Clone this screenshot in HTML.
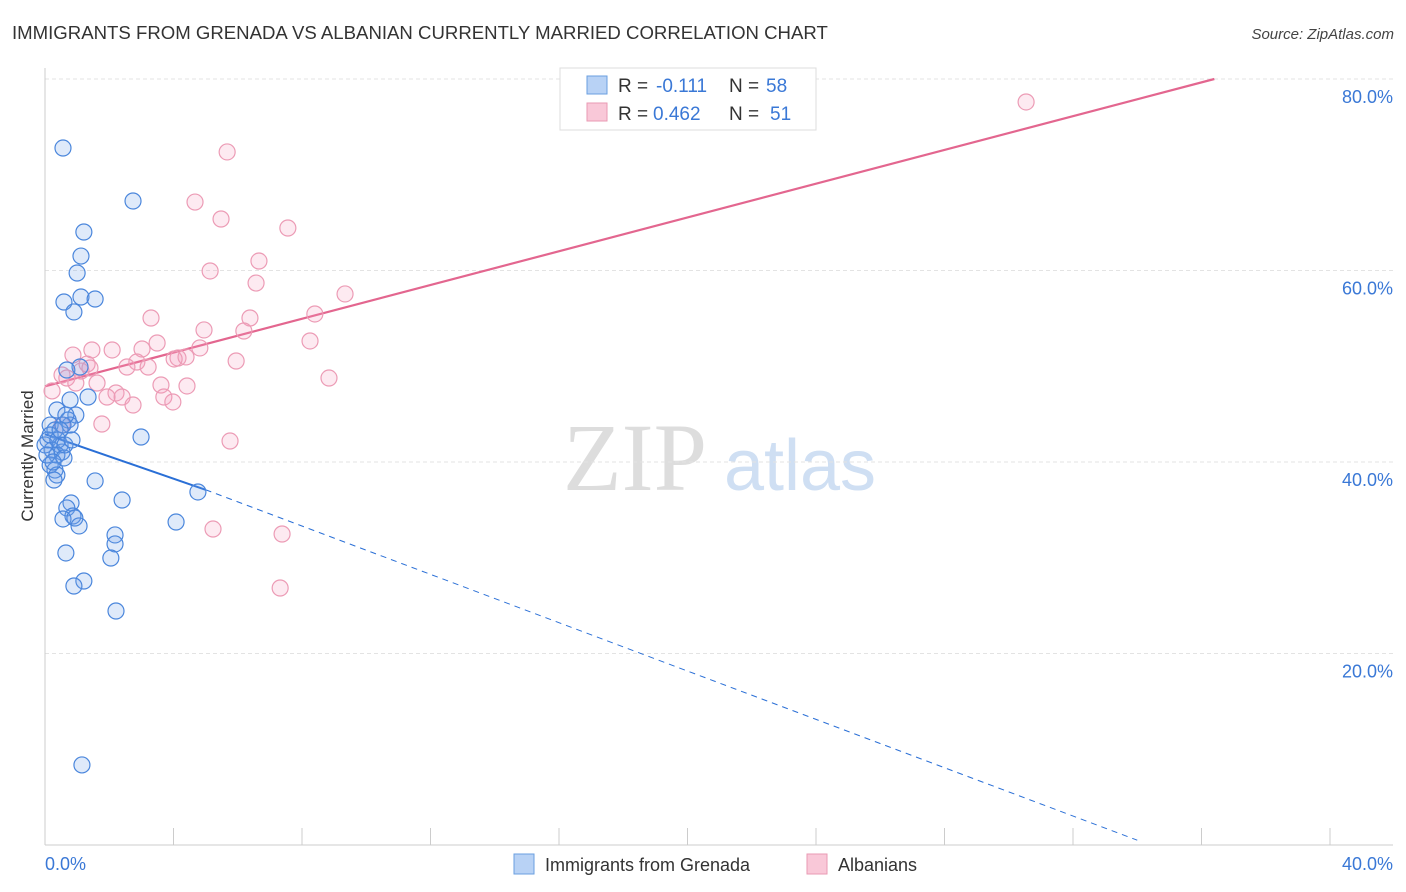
<!DOCTYPE html>
<html><head><meta charset="utf-8"><style>
body{margin:0;background:#fff;font-family:"Liberation Sans",sans-serif;}
svg{display:block}
</style></head><body>
<svg id="chart" width="1406" height="892" xmlns="http://www.w3.org/2000/svg" font-family="Liberation Sans, sans-serif">
<text x="12" y="39" font-size="18.6" fill="#333">IMMIGRANTS FROM GRENADA VS ALBANIAN CURRENTLY MARRIED CORRELATION CHART</text>
<text x="1394" y="39" font-size="15" fill="#444" text-anchor="end" font-style="italic">Source: ZipAtlas.com</text>
<g>
<text x="635" y="490" font-size="96" fill="#ddd" font-family="Liberation Serif, serif" text-anchor="middle">ZIP</text>
<text x="800" y="490" font-size="72" fill="#cfdff3" text-anchor="middle">atlas</text>
</g>
<g id="grid"></g>
<g id="axes"></g>
<g id="trends"></g>
<g id="points"></g>
<text transform="translate(33,456) rotate(-90)" font-size="17" fill="#333" text-anchor="middle">Currently Married</text>
<g>
<rect x="560" y="68" width="256" height="62" fill="#fff" stroke="#ddd"/>
<rect x="587" y="76" width="20" height="18" fill="#b8d2f5" stroke="#6a9fe0"/>
<rect x="587" y="103" width="20" height="18" fill="#f9c8d8" stroke="#e99ab3"/>
<text x="618" y="92" font-size="19" fill="#333">R =</text>
<text x="656" y="92" font-size="19" fill="#3a78d6">-0.111</text>
<text x="729" y="92" font-size="19" fill="#333">N =</text>
<text x="766" y="92" font-size="19" fill="#3a78d6">58</text>
<text x="618" y="120" font-size="19" fill="#333">R =</text>
<text x="653" y="120" font-size="19" fill="#3a78d6">0.462</text>
<text x="729" y="120" font-size="19" fill="#333">N =</text>
<text x="770" y="120" font-size="19" fill="#3a78d6">51</text>
</g>
<g>
<rect x="514" y="854" width="20" height="20" fill="#b8d2f5" stroke="#6a9fe0"/>
<text x="545" y="871" font-size="18" fill="#333">Immigrants from Grenada</text>
<rect x="807" y="854" width="20" height="20" fill="#f9c8d8" stroke="#e99ab3"/>
<text x="838" y="871" font-size="18" fill="#333">Albanians</text>
</g>
</svg>
<script>
const yTicks=[20,40,60,80];
const yTickLabels=["20.0%","40.0%","60.0%","80.0%"];
const xTicks=[0,4,8,12,16,20,24,28,32,36,40];
const xTickLabels=["0.0%","40.0%"];
const bluePx=[[63,148],[133,201],[84,232],[81,256],[77,273],[64,302],[81,297],[95,299],[74,312],[80,367],[67,370],[88,397],[70,400],[57,410],[76,415],[68,420],[70,425],[50,425],[55,430],[63,425],[48,440],[60,445],[52,450],[62,452],[57,455],[64,458],[50,465],[55,470],[57,475],[54,480],[141,437],[95,481],[122,500],[71,503],[67,508],[73,516],[63,519],[75,518],[79,526],[115,535],[176,522],[198,492],[115,544],[66,553],[111,558],[84,581],[74,586],[116,611],[82,765],[45,445],[50,435],[58,440],[65,445],[47,455],[53,462],[60,430],[72,440],[66,415]];
const pinkPx=[[1026,102],[227,152],[195,202],[221,219],[288,228],[210,271],[259,261],[256,283],[345,294],[151,318],[250,318],[204,330],[244,331],[315,314],[310,341],[157,343],[200,348],[112,350],[142,349],[92,350],[73,355],[236,361],[178,358],[186,357],[174,359],[137,362],[148,367],[127,367],[87,364],[81,371],[62,375],[67,378],[76,383],[97,383],[52,391],[161,385],[187,386],[329,378],[116,393],[122,397],[107,397],[164,397],[173,402],[133,405],[230,441],[102,424],[62,425],[213,529],[282,534],[280,588],[90,368]];
const blueX=bluePx.map(p=>+((p[0]-45)/32.125).toFixed(2));
const blueY=bluePx.map(p=>+((845-p[1])/9.575).toFixed(2));
const pinkX=pinkPx.map(p=>+((p[0]-45)/32.125).toFixed(2));
const pinkY=pinkPx.map(p=>+((845-p[1])/9.575).toFixed(2));
const blueTrend=[[0,42.9],[5,37.1],[34,0.5]];
const pinkTrend=[[0,47.9],[36.4,80]];
const NS="http://www.w3.org/2000/svg";
const X=v=>45+v*32.125, Y=v=>845-v*9.575;
function mk(t,a,parent){const e=document.createElementNS(NS,t);for(const k in a)e.setAttribute(k,a[k]);document.getElementById(parent).appendChild(e);return e;}
yTicks.forEach((t,i)=>{
 const g=mk('line',{x1:45,x2:1393,y1:Y(t),y2:Y(t),stroke:'#e3e3e3','stroke-dasharray':'4,3'},'grid');
 
 
 const l=mk('text',{x:1393,y:Y(t)+24,'font-size':18,fill:'#3a78d6','text-anchor':'end'},'axes');
 l.textContent=yTickLabels[i];
 
 
});
const ax=mk('line',{x1:45,x2:1393,y1:845,y2:845,stroke:'#ccc'},'axes');


const ay=mk('line',{x1:45,x2:45,y1:68,y2:845,stroke:'#ccc'},'axes');


xTicks.forEach(t=>{const e=mk('line',{x1:X(t),x2:X(t),y1:828,y2:845,stroke:'#ccc'},'axes');
 
 });
[[0,'start'],[40,'end']].forEach((d,i)=>{const e=mk('text',{x:i?1393:45,y:870,'font-size':18,fill:'#3a78d6','text-anchor':d[1]},'axes');e.textContent=xTickLabels[i];
 
 });
function pts(xs,ys,fill,stroke,name){xs.forEach((x,i)=>{const c=mk('circle',{cx:X(x),cy:Y(ys[i]),r:8,fill:fill,stroke:stroke,'stroke-width':1.2},'points');
 
 });}
pts(pinkX,pinkY,'rgba(245,160,190,0.22)','#ec9bb5','albanian-point');
pts(blueX,blueY,'rgba(110,160,230,0.22)','#4a86dc','grenada-point');
let t1=mk('line',{x1:X(blueTrend[0][0]),y1:Y(blueTrend[0][1]),x2:X(blueTrend[1][0]),y2:Y(blueTrend[1][1]),stroke:'#2a6fd6','stroke-width':2},'trends');


let t2=mk('line',{x1:X(blueTrend[1][0]),y1:Y(blueTrend[1][1]),x2:X(blueTrend[2][0]),y2:Y(blueTrend[2][1]),stroke:'#2a6fd6','stroke-width':1,'stroke-dasharray':'6,5'},'trends');


let t3=mk('line',{x1:X(pinkTrend[0][0]),y1:Y(pinkTrend[0][1]),x2:X(pinkTrend[1][0]),y2:Y(pinkTrend[1][1]),stroke:'#e3668f','stroke-width':2.2},'trends');


</script>
</body></html>
